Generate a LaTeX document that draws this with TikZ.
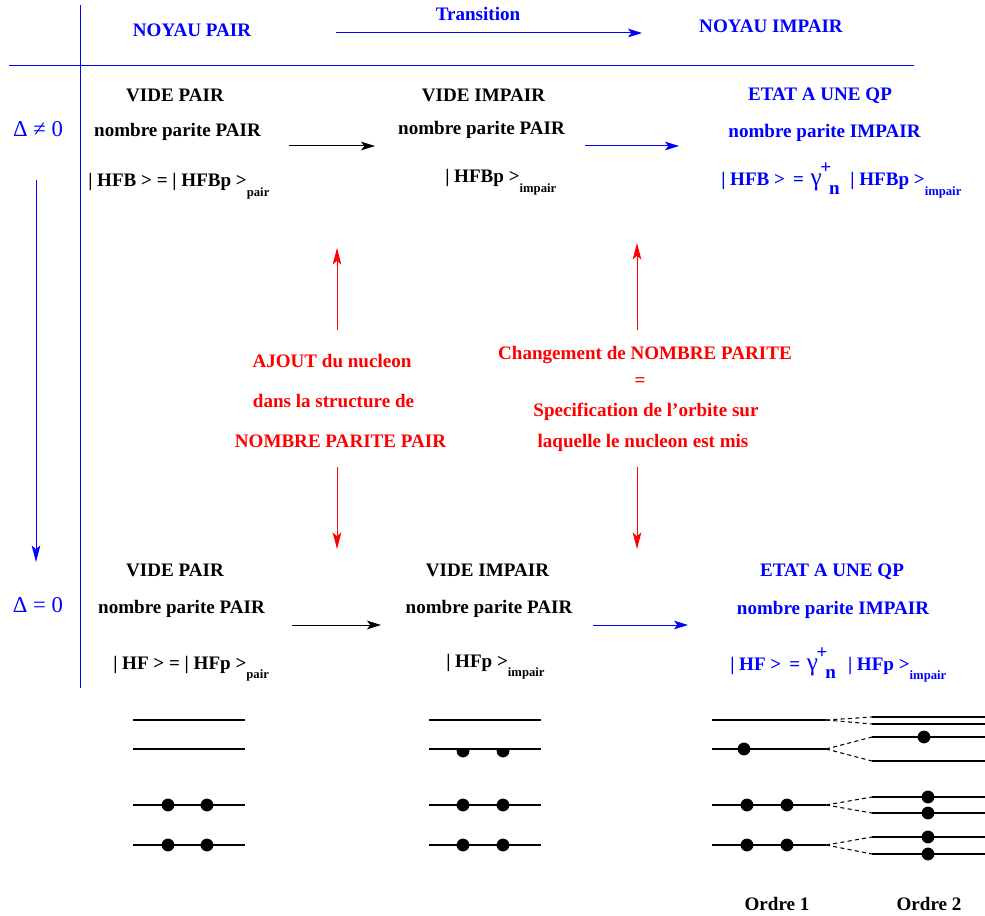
\documentclass[tikz,border=0pt]{standalone}
\usepackage{fontspec}
\setmainfont{Liberation Serif}
\usetikzlibrary{arrows.meta}
\newcommand{\subtxt}[1]{\raisebox{-7pt}{\fontsize{9.5}{11}\selectfont #1}}
\newcommand{\gplus}{{\fontsize{19}{20}\selectfont\mdseries γ}\kern-1pt\rlap{\raisebox{9pt}{+}}\kern6.5pt\raisebox{-6.5pt}{n}}
\begin{document}
\begin{tikzpicture}[x=0.75pt,y=-0.75pt,
  txt/.style={inner sep=0pt, font=\bfseries\fontsize{14.3}{17}\selectfont, anchor=base},
  ftxt/.style={txt, anchor=base west},
  bl/.style={text=blue}, rd/.style={text=red},
  arr/.style={line width=0.75pt, -{Stealth[length=10.5pt,width=6.5pt,inset=2.5pt]}},
  bigarr/.style={line width=0.75pt, -{Stealth[length=12.5pt,width=6.5pt,inset=3pt]}},
  lvl/.style={line width=0.8pt},
  dsh/.style={line width=0.8pt, dash pattern=on 3pt off 2.5pt},
  dotf/.style={fill=black},
  dtxt/.style={inner sep=0pt, anchor=base, text=blue, font=\fontsize{17}{19}\selectfont}
]
\useasboundingbox (0,0) rectangle (985,916);

% frame lines
\coordinate (vt) at (80,5);
\coordinate (vb) at (80,688);
\coordinate (hl) at (9,66);
\coordinate (hr) at (914,66);
\draw[blue, line width=0.75pt] (vt) -- (vb);
\draw[blue, line width=0.75pt] (hl) -- (hr);

% header
\node[txt, bl] (np) at (192,37) {NOYAU PAIR};
\node[txt, bl] (tr) at (478,21) {Transition};
\node[txt, bl] (ni) at (771,33) {NOYAU IMPAIR};
\coordinate (ta) at (336,33);
\coordinate (tb) at (642,33);
\draw[arr, blue] (ta) -- (tb);

% deltas
\node[dtxt] (d1) at (38,137) {Δ ≠ 0};
\node[dtxt] (d0) at (38,612) {Δ = 0};
\coordinate (da) at (36,180);
\coordinate (db) at (36,562);
\draw[bigarr, blue] (da) -- (db);

% row 1
\node[txt] (a1) at (175,102) {VIDE PAIR};
\node[txt] (a2) at (177.5,137) {nombre parite PAIR};
\node[ftxt] (a3) at (88,187) {| HFB > = | HFBp >\subtxt{pair}};
\node[txt] (b1) at (483.5,102) {VIDE IMPAIR};
\node[txt] (b2) at (481.5,135) {nombre parite PAIR};
\node[ftxt] (b3) at (445,183) {| HFBp >\subtxt{impair}};
\node[txt, bl] (c1) at (820,101) {ETAT A UNE QP};
\node[txt, bl] (c2) at (824.5,138) {nombre parite IMPAIR};
\node[ftxt, bl] (c3) at (721,186) {| HFB >\hspace{6pt}=\hspace{5pt}\gplus\hspace{8pt}| HFBp >\subtxt{impair}};
\coordinate (r1a) at (289,146);
\coordinate (r1b) at (375,146);
\coordinate (r1c) at (585,146);
\coordinate (r1d) at (679,146);
\draw[arr] (r1a) -- (r1b);
\draw[arr, blue] (r1c) -- (r1d);

% row 2
\node[txt] (e1) at (175,576) {VIDE PAIR};
\node[txt] (e2) at (181.5,613) {nombre parite PAIR};
\node[ftxt] (e3) at (113,669) {| HF > = | HFp >\subtxt{pair}};
\node[txt] (f1) at (487.5,576) {VIDE IMPAIR};
\node[txt] (f2) at (489,613) {nombre parite PAIR};
\node[ftxt] (f3) at (446,667) {| HFp >\subtxt{impair}};
\node[txt, bl] (g1) at (832,576) {ETAT A UNE QP};
\node[txt, bl] (g2) at (833,614) {nombre parite IMPAIR};
\node[ftxt, bl] (g3) at (730,670) {| HF >\hspace{6pt}=\hspace{5pt}\gplus\hspace{9pt}| HFp >\subtxt{impair}};
\coordinate (r2a) at (292,625);
\coordinate (r2b) at (381,625);
\coordinate (r2c) at (593,625);
\coordinate (r2d) at (688,625);
\draw[arr] (r2a) -- (r2b);
\draw[arr, blue] (r2c) -- (r2d);

% red texts
\node[txt, rd] (l1) at (332,367) {AJOUT du nucleon};
\node[txt, rd] (l2) at (333.5,407) {dans la structure de};
\node[txt, rd] (l3) at (340.5,447) {NOMBRE PARITE PAIR};
\node[txt, rd] (m1) at (645,359) {Changement de NOMBRE PARITE};
\node[txt, rd] (m2) at (640,386) {=};
\node[txt, rd] (m3) at (646,416) {Specification de l’orbite sur};
\node[txt, rd] (m4) at (643,447) {laquelle le nucleon est mis};
\coordinate (la) at (337,330);
\coordinate (lb) at (337,248);
\coordinate (lc) at (337,467);
\coordinate (ld) at (337,549);
\coordinate (ma) at (637,330);
\coordinate (mb) at (637,243);
\coordinate (mc) at (637,467);
\coordinate (md) at (637,549);
\draw[bigarr, red] (la) -- (lb);
\draw[bigarr, red] (lc) -- (ld);
\draw[bigarr, red] (ma) -- (mb);
\draw[bigarr, red] (mc) -- (md);

% level diagram left
\foreach \yy in {720,749,805,845} \draw[lvl] (133,\yy) -- (245,\yy);
\foreach \xx in {168,207} \foreach \yy in {805,845} \fill[dotf] (\xx,\yy) circle (4.8pt);

% level diagram middle
\foreach \yy in {720,749,805,845} \draw[lvl] (429,\yy) -- (541,\yy);
\foreach \xx in {463,503} \foreach \yy in {805,845} \fill[dotf] (\xx,\yy) circle (4.8pt);
\begin{scope}
\clip (440,749) rectangle (530,765);
\fill[dotf] (463,751) circle (4.8pt);
\fill[dotf] (503,751) circle (4.8pt);
\end{scope}

% level diagram right, ordre 1
\foreach \yy in {720,749,805,845} \draw[lvl] (712,\yy) -- (826,\yy);
\fill[dotf] (744,749) circle (4.8pt);
\foreach \xx in {747,787} \foreach \yy in {805,845} \fill[dotf] (\xx,\yy) circle (4.8pt);
% ordre 2
\foreach \yy in {717,724,737,761,797,813,837,854} \draw[lvl] (872,\yy) -- (985,\yy);
\foreach \ya/\yb/\yc in {720/717/724,749/737/761,805/797/813,845/837/854} {
  \draw[dsh] (826,\ya) -- (872,\yb);
  \draw[dsh] (826,\ya) -- (872,\yc);
}
\fill[dotf] (924,737) circle (4.8pt);
\foreach \yy in {797,813,837,854} \fill[dotf] (928,\yy) circle (4.8pt);

\node[txt] (o1) at (777,910) {Ordre 1};
\node[txt] (o2) at (929,910) {Ordre 2};
\end{tikzpicture}
\end{document}
